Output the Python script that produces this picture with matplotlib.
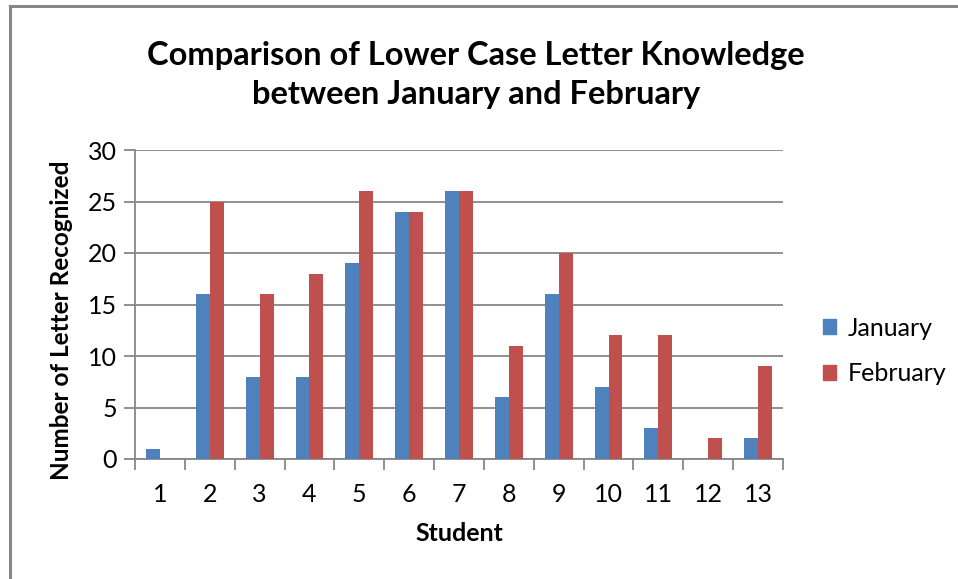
import numpy as np
import matplotlib
matplotlib.use('Agg')
import matplotlib.pyplot as plt
from matplotlib.lines import Line2D

plt.rcParams['font.family'] = ['Lato', 'DejaVu Sans']

# 数据
students = ['1', '2', '3', '4', '5', '6', '7', '8', '9', '10', '11', '12', '13']
january = [1, 16, 8, 8, 19, 24, 26, 6, 16, 7, 3, 0, 2]
february = [0, 25, 16, 18, 26, 24, 26, 11, 20, 12, 12, 2, 9]

blue = '#4F81BD'
red = '#C0504D'
grey = '#878787'

fig = plt.figure(figsize=(9.58, 5.79), dpi=100)
ax = fig.add_axes([135 / 958, 1 - 459 / 579, 648 / 958, 309 / 579])

x = np.arange(1, len(students) + 1)
w = 0.28
ax.bar(x - w / 2, january, width=w, color=blue, label='January', zorder=3)
ax.bar(x + w / 2, february, width=w, color=red, label='February', zorder=3)

ax.set_xlim(0.5, len(students) + 0.5)
ax.set_ylim(0, 30)
ax.set_yticks(np.arange(0, 31, 5))
ax.yaxis.grid(True, color=grey, linewidth=1.3, zorder=0)

# x 轴刻度线放在分组之间, 标签放在中间
ax.set_xticks(np.arange(0.5, len(students) + 1, 1))
ax.set_xticklabels([])
ax.set_xticks(x, minor=True)
ax.set_xticklabels(students, minor=True)
ax.tick_params(axis='x', which='minor', length=0, pad=17, labelsize=18)
ax.tick_params(axis='x', which='major', length=8, width=1.3, color=grey)
ax.tick_params(axis='y', length=8, width=1.3, color=grey, labelsize=18, pad=5)

for s in ['top', 'right']:
    ax.spines[s].set_visible(False)
for s in ['left', 'bottom']:
    ax.spines[s].set_color(grey)
    ax.spines[s].set_linewidth(1.3)

ax.set_xlabel('Student', fontsize=18, fontweight='bold', labelpad=12)
ax.set_ylabel('Number of Letter Recognized', fontsize=17.5, fontweight='bold')
ax.yaxis.set_label_coords(-0.095, 0.45)

fig.text(476 / 958, 1 - 75 / 579,
         'Comparison of Lower Case Letter Knowledge\nbetween January and February',
         ha='center', va='center', fontsize=23.5, fontweight='bold', linespacing=1.4)

handles = [plt.Rectangle((0, 0), 1, 1, color=blue), plt.Rectangle((0, 0), 1, 1, color=red)]
fig.legend(handles, ['January', 'February'], loc='center left',
           bbox_to_anchor=(800 / 958, 1 - 351 / 579), frameon=False,
           fontsize=18, handlelength=0.55, handleheight=0.55, handletextpad=0.45,
           labelspacing=0.9)

# 外框 (只有上边和左边)
fig.add_artist(Line2D([9.5 / 958, 9.5 / 958], [0, 1 - 6 / 579], color=grey, linewidth=2.2))
fig.add_artist(Line2D([9.5 / 958, 1], [1 - 6 / 579, 1 - 6 / 579], color=grey, linewidth=2.2))

plt.savefig('out.png', dpi=100)
